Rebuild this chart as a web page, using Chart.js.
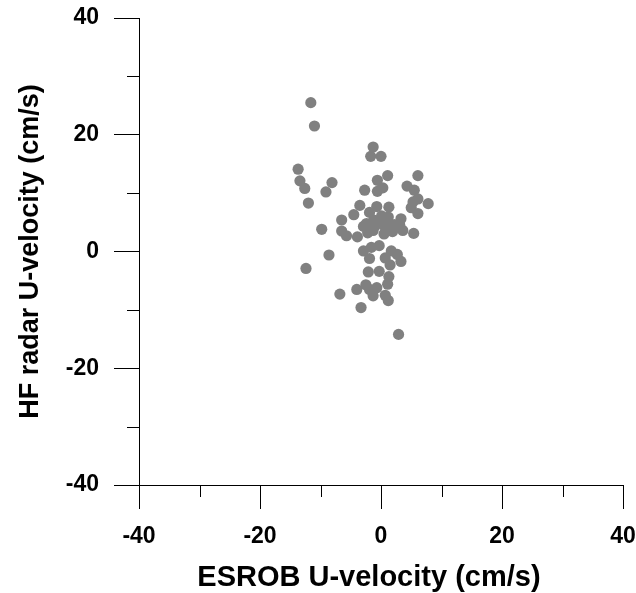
<!DOCTYPE html>
<html>
<head>
<meta charset="utf-8">
<script src="https://cdn.jsdelivr.net/npm/chart.js@4.4.1/dist/chart.umd.min.js"></script>
<style>
  html, body { margin: 0; padding: 0; background: #fff; }
  #wrap { position: relative; width: 636px; height: 593px; }
</style>
</head>
<body>
<div id="wrap"><canvas id="c"></canvas></div>
<script>
// ESROB vs HF radar U-velocity scatter
const esrobU = [
  -11.6, -11.0, -1.3, -1.7, 0.0, -13.7, -13.4, -12.6, -8.1, -9.1,
  -12.0, 1.1, 6.1, -0.6, -2.7, -0.6, 0.3, 4.3, 5.5, 7.8,
  6.1, 5.3, 5.0, 6.1, 5.4, -3.5, -0.7, 1.3, -4.5, -6.5,
  -1.9, 0.1, -1.2, 0.8, 3.3, -9.8, -6.5, -5.7, -3.9, -2.9,
  -2.2, -0.9, 1.5, 0.5, 1.9, 3.6, 3.1, -1.6, -0.3, -2.9,
  -1.9, -8.6, -12.4, 1.7, 0.7, 2.7, 3.3, 1.5, -2.1, -0.3,
  1.3, 1.1, -4.0, -2.5, -1.9, -0.7, -6.8, -1.3, 0.7, 1.2,
  -3.3, 2.9, -0.4, 0.6, -1.3, 1.2, 2.2, -2.4
];
const radarU = [
  25.5, 21.5, 17.9, 16.3, 16.3, 14.1, 12.1, 10.8, 11.8, 10.2,
  8.3, 13.0, 13.0, 12.2, 10.5, 10.3, 10.9, 11.2, 10.5, 8.2,
  9.0, 8.5, 7.5, 6.5, 3.1, 7.9, 7.7, 7.6, 6.3, 5.4,
  6.7, 6.1, 5.4, 5.4, 5.6, 3.8, 3.5, 2.7, 2.5, 4.3,
  3.2, 4.5, 4.1, 3.0, 3.4, 3.6, 4.5, 0.7, 1.0, 0.1,
  -1.2, -0.6, -2.9, 0.1, -1.1, -0.5, -1.7, -2.3, -3.5, -3.4,
  -4.3, -5.6, -6.5, -5.7, -6.5, -6.2, -7.3, -7.6, -7.5, -8.4,
  -9.6, -14.2, 5.0, 4.3, 3.6, 5.9, 4.6, 4.8
];
const axisMin = -40;
const axisMax = 40;
const majorStep = 20;
const minorTicks = [-30, -10, 10, 30];

const FONT = "Arial, 'Liberation Sans', Helvetica, sans-serif";

// short minor tick marks, placed via the chart's own scales
const minorTickPlugin = {
  id: 'minorTicks',
  afterDraw(chart) {
    const { ctx, chartArea, scales } = chart;
    ctx.save();
    ctx.strokeStyle = '#000';
    ctx.lineWidth = 1;
    ctx.beginPath();
    minorTicks.forEach(v => {
      const px = Math.round(scales.x.getPixelForValue(v)) + 0.5;
      ctx.moveTo(px, chartArea.bottom);
      ctx.lineTo(px, chartArea.bottom + 12);
      const py = Math.round(scales.y.getPixelForValue(v)) + 0.5;
      ctx.moveTo(chartArea.left - 12, py);
      ctx.lineTo(chartArea.left, py);
    });
    ctx.stroke();
    ctx.restore();
  },
};

const isMajor = v => v % majorStep === 0;

new Chart(document.getElementById('c'), {
  type: 'scatter',
  data: {
    datasets: [{
      data: esrobU.map((x, i) => ({ x, y: radarU[i] })),
      backgroundColor: '#808080',
      borderWidth: 0,
      pointRadius: 5.6,
      pointHoverRadius: 5.6,
    }],
  },
  options: {
    responsive: true,
    maintainAspectRatio: false,
    animation: false,
    layout: { padding: { left: 0, top: 18, right: 13, bottom: 0 } },
    plugins: { legend: { display: false }, tooltip: { enabled: false } },
    scales: {
      x: {
        type: 'linear',
        min: axisMin,
        max: axisMax,
        afterFit(s) {
          s.height = 108;
          s.paddingLeft = 0;
          s.paddingRight = 0;
        },
        border: { display: true, color: '#000', width: 1 },
        grid: {
          drawOnChartArea: false,
          drawTicks: true,
          tickLength: 24,
          tickColor: c => (isMajor(c.tick.value) ? '#000' : 'rgba(0,0,0,0)'),
        },
        ticks: {
          stepSize: 10,
          autoSkip: false,
          maxRotation: 0,
          padding: 14,
          color: '#000',
          font: { family: FONT, size: 23, weight: 'bold' },
          callback: v => (isMajor(v) ? String(v) : ''),
        },
        title: {
          display: true,
          // trailing spaces nudge the centred title left, as in the original
          text: 'ESROB U-velocity (cm/s)\u00a0\u00a0\u00a0',
          color: '#000',
          font: { family: FONT, size: 29, weight: 'bold', lineHeight: 1 },
          padding: { top: 0, bottom: 1 },
        },
      },
      y: {
        type: 'linear',
        min: axisMin,
        max: axisMax,
        afterFit(s) {
          s.width = 139;
          s.paddingTop = 0;
          s.paddingBottom = 0;
        },
        border: { display: true, color: '#000', width: 1 },
        grid: {
          drawOnChartArea: false,
          drawTicks: true,
          tickLength: 25,
          tickColor: c => (isMajor(c.tick.value) ? '#000' : 'rgba(0,0,0,0)'),
        },
        ticks: {
          stepSize: 10,
          autoSkip: false,
          padding: 15,
          color: '#000',
          font: { family: FONT, size: 23, weight: 'bold' },
          callback: v => (isMajor(v) ? String(v) : ''),
        },
        title: {
          display: true,
          text: 'HF radar U-velocity (cm/s)',
          color: '#000',
          font: { family: FONT, size: 27, weight: 'bold', lineHeight: 1.2 },
          padding: { top: 14, bottom: 0 },
        },
      },
    },
  },
  plugins: [minorTickPlugin],
});
</script>
</body>
</html>
